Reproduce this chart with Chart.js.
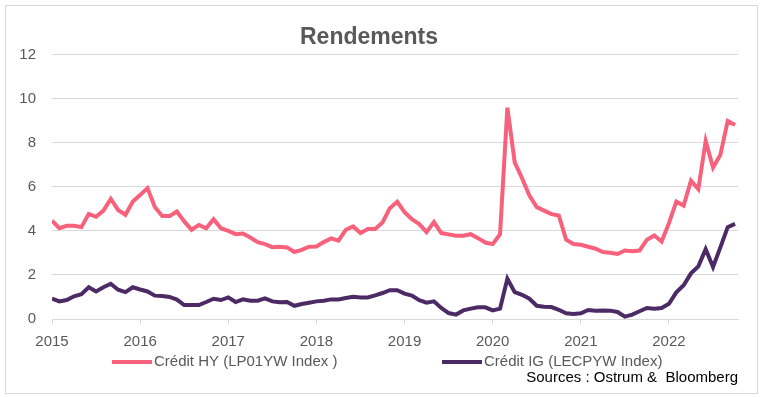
<!DOCTYPE html>
<html>
<head>
<meta charset="utf-8">
<script src="https://cdn.jsdelivr.net/npm/chart.js@4"></script>
<style>
  html, body { margin: 0; padding: 0; background: #fff; }
  #wrap { position: relative; width: 763px; height: 397px; }
  #frame { position: absolute; left: 5px; top: 5px; width: 751px; height: 387px; border: 1px solid #d9d9d9; pointer-events: none; }
  canvas { position: absolute; left: 0; top: 0; }
</style>
</head>
<body>
<div id="wrap">
  <canvas id="graficoRendements" width="763" height="397"></canvas>
  <div id="frame"></div>
</div>
<script>
// données mensuelles, janv. 2015 -> oct. 2022
const startYear = 2015;
const yearTicks = ['2015', '2016', '2017', '2018', '2019', '2020', '2021', '2022'];
const seriesNames = ['Crédit HY (LP01YW Index )', 'Crédit IG (LECPYW Index)'];

const creditHY = [
  4.46, 4.12, 4.23, 4.23, 4.17, 4.77, 4.64, 4.92, 5.45, 4.95, 4.73, 5.33,
  5.63, 5.94, 5.08, 4.67, 4.67, 4.88, 4.43, 4.05, 4.27, 4.12, 4.53, 4.12,
  4.00, 3.85, 3.88, 3.70, 3.49, 3.40, 3.26, 3.28, 3.25, 3.04, 3.14, 3.28,
  3.29, 3.49, 3.66, 3.56, 4.05, 4.20, 3.90, 4.08, 4.08, 4.38, 5.03, 5.32,
  4.85, 4.53, 4.31, 3.94, 4.40, 3.90, 3.84, 3.78, 3.78, 3.85, 3.67, 3.47,
  3.40, 3.85, 9.59, 7.11, 6.39, 5.60, 5.08, 4.92, 4.76, 4.70, 3.60, 3.40,
  3.37, 3.28, 3.19, 3.04, 3.01, 2.95, 3.11, 3.08, 3.11, 3.60, 3.79, 3.52,
  4.35, 5.33, 5.15, 6.28, 5.89, 8.08, 6.87, 7.45, 8.99, 8.81
];

const creditIG = [
  0.92, 0.80, 0.86, 1.03, 1.13, 1.44, 1.25, 1.44, 1.60, 1.33, 1.22, 1.44,
  1.34, 1.25, 1.06, 1.04, 1.00, 0.88, 0.63, 0.63, 0.63, 0.77, 0.92, 0.86,
  0.98, 0.77, 0.89, 0.83, 0.83, 0.94, 0.80, 0.76, 0.77, 0.60, 0.68, 0.74,
  0.80, 0.83, 0.89, 0.89, 0.95, 1.01, 0.98, 0.98, 1.07, 1.18, 1.31, 1.31,
  1.15, 1.06, 0.85, 0.74, 0.80, 0.50, 0.27, 0.20, 0.39, 0.47, 0.53, 0.53,
  0.39, 0.47, 1.83, 1.22, 1.10, 0.92, 0.60, 0.56, 0.54, 0.42, 0.26, 0.23,
  0.26, 0.41, 0.38, 0.39, 0.38, 0.32, 0.11, 0.20, 0.35, 0.50, 0.47, 0.50,
  0.69, 1.21, 1.53, 2.07, 2.39, 3.17, 2.36, 3.25, 4.17, 4.32
];

const colorHY = '#f8617c';
const colorIG = '#4b2a66';
const textGray = '#595959';
const gridGray = '#d9d9d9';
const fontFamily = '"Liberation Sans", Arial, sans-serif';

function toPoints(values) {
  return values.map((v, i) => ({ x: i, y: v }));
}

// légende dessinée à la main (espacement large comme dans l'original)
const legendeManuelle = {
  id: 'legendeManuelle',
  afterDraw(chart) {
    const ctx = chart.ctx;
    const y = chart.chartArea.bottom + 43;
    const items = [
      { x: 112, color: colorHY, text: seriesNames[0] },
      { x: 442, color: colorIG, text: seriesNames[1] }
    ];
    ctx.save();
    ctx.font = '15px ' + fontFamily;
    ctx.textBaseline = 'middle';
    items.forEach(it => {
      ctx.strokeStyle = it.color;
      ctx.lineWidth = 4;
      ctx.beginPath();
      ctx.moveTo(it.x, y);
      ctx.lineTo(it.x + 40, y);
      ctx.stroke();
      ctx.fillStyle = textGray;
      ctx.fillText(it.text, it.x + 42, y);
    });
    ctx.restore();
  }
};

document.addEventListener('DOMContentLoaded', function () {
  const canvas = document.getElementById('graficoRendements');
  const ctx = canvas.getContext('2d');

  new Chart(ctx, {
    type: 'line',
    data: {
      datasets: [
        {
          label: seriesNames[0],
          data: toPoints(creditHY),
          borderColor: colorHY,
          borderWidth: 4,
          pointRadius: 0,
          tension: 0
        },
        {
          label: seriesNames[1],
          data: toPoints(creditIG),
          borderColor: colorIG,
          borderWidth: 4,
          pointRadius: 0,
          tension: 0
        }
      ]
    },
    options: {
      responsive: false,
      animation: false,
      layout: { padding: { left: 0, right: 25, top: 16, bottom: 10 } },
      plugins: {
        legend: { display: false },
        tooltip: { enabled: false },
        title: {
          display: true,
          text: 'Rendements',
          color: textGray,
          font: { family: fontFamily, size: 23, weight: 'bold' },
          padding: { top: 8, bottom: 3 }
        },
        subtitle: {
          display: true,
          position: 'bottom',
          align: 'end',
          text: 'Sources : Ostrum &  Bloomberg',
          color: '#000',
          font: { family: fontFamily, size: 15 },
          padding: { top: 9, bottom: 0 }
        }
      },
      scales: {
        x: {
          type: 'linear',
          min: 0,
          max: creditHY.length - 1 + 0.4,
          grid: {
            drawOnChartArea: false,
            drawTicks: true,
            tickLength: 5,
            color: gridGray
          },
          border: { display: true, color: gridGray },
          ticks: {
            stepSize: 12,
            color: textGray,
            font: { family: fontFamily, size: 15 },
            padding: 9,
            maxRotation: 0,
            callback: function (value) {
              const idx = value / 12;
              return Number.isInteger(idx) && yearTicks[idx] ? yearTicks[idx] : null;
            }
          }
        },
        y: {
          min: 0,
          max: 12,
          afterFit: function (scale) { scale.width = 52; },
          grid: { color: gridGray, drawTicks: false },
          border: { display: false },
          ticks: {
            stepSize: 2,
            color: textGray,
            font: { family: fontFamily, size: 15 },
            padding: 16
          }
        }
      }
    },
    plugins: [legendeManuelle]
  });
});
</script>
</body>
</html>
